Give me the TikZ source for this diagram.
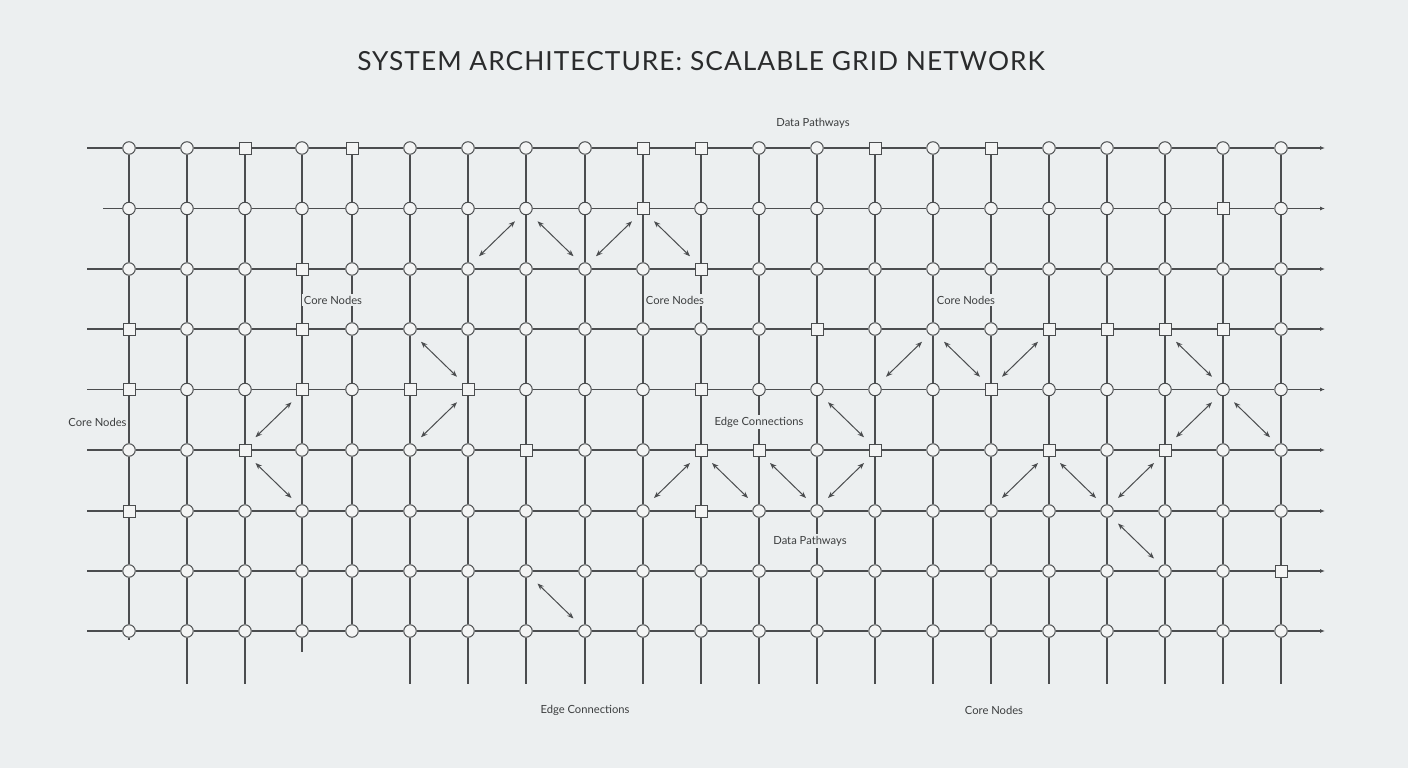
\documentclass[tikz,border=0pt]{standalone}
\usepackage{fontspec}
\setmainfont{Lato}
\newfontfamily\titlefont[LetterSpace=4]{Lato}
\usetikzlibrary{arrows.meta,calc}
\definecolor{bgc}{HTML}{ECEFF0}
\definecolor{ink}{HTML}{4B4D4F}
\definecolor{nodefill}{HTML}{F3F4F4}
\definecolor{titleink}{HTML}{2A2B2C}
\begin{document}
\begin{tikzpicture}[x=1pt,y=-1pt,
  cnode/.style={circle,draw=ink,fill=nodefill,line width=1pt,minimum size=12.5pt,inner sep=0pt},
  snode/.style={rectangle,draw=ink,fill=nodefill,line width=1pt,minimum size=12pt,inner sep=0pt},
  gridline/.style={draw=ink,line width=1.1pt},
  rowend/.style={gridline,-{Latex[length=5pt,width=4pt]}},
  flow/.style={draw=ink,line width=1pt,{Stealth[length=6.5pt,width=5pt]}-{Stealth[length=6.5pt,width=5pt]}},
  lbl/.style={font=\fontsize{11.2}{13}\selectfont,text=ink!80!black,fill=bgc,inner sep=1.5pt},
  titlestyle/.style={font=\titlefont\fontsize{26.3}{30}\selectfont,text=titleink},
]
\fill[bgc] (0,0) rectangle (1408,768);
\useasboundingbox (0,0) rectangle (1408,768);

% square positions
\foreach \p in {3-1,5-1,10-1,11-1,14-1,16-1,10-2,20-2,4-3,11-3,
  1-4,4-4,13-4,17-4,18-4,19-4,20-4,1-5,4-5,6-5,7-5,11-5,16-5,
  3-6,8-6,11-6,12-6,14-6,17-6,19-6,1-7,11-7,21-8}
  {\expandafter\gdef\csname sq-\p\endcsname{}}

% nodes
\foreach \x [count=\c] in {129,187,245,302,352,410,468,526,585,643,701,759,817,875,933,991,1049,1107,1165,1223,1281}{
  \foreach \y [count=\r] in {148,208.5,269,329,389.5,450,511,571,631}{
    \ifcsname sq-\c-\r\endcsname
      \tikzset{cur/.style={snode}}
    \else
      \tikzset{cur/.style={cnode}}
    \fi
    \node[cur] (n-\c-\r) at (\x,\y) {};
  }
}

% row start / end coordinates
\foreach \y [count=\r] in {148,208.5,269,329,389.5,450,511,571,631}{
  \ifnum\r=2
    \coordinate (hs-\r) at (103,\y);
  \else
    \coordinate (hs-\r) at (87,\y);
  \fi
  \coordinate (he-\r) at (1325,\y);
}

% horizontal lines
\foreach \r in {1,...,9}{
  \draw[gridline] (hs-\r) -- (n-1-\r);
  \foreach \c in {1,...,20}{
    \pgfmathtruncatemacro\cn{\c+1}
    \draw[gridline] (n-\c-\r) -- (n-\cn-\r);
  }
  \draw[rowend] (n-21-\r) -- (he-\r);
}

% vertical lines
\foreach \c in {1,...,21}{
  \foreach \r in {1,...,8}{
    \pgfmathtruncatemacro\rn{\r+1}
    \draw[gridline] (n-\c-\r) -- (n-\c-\rn);
  }
}
% bottom extensions
\foreach \c in {2,3,6,7,8,9,10,11,12,13,14,15,16,17,18,19,20,21}{
  \coordinate (vb-\c) at ($(n-\c-9)+(0,53)$);
  \draw[gridline] (n-\c-9) -- (vb-\c);
}
\coordinate (vb-1) at ($(n-1-9)+(0,9)$);
\draw[gridline] (n-1-9) -- (vb-1);
\coordinate (vb-4) at ($(n-4-9)+(0,21)$);
\draw[gridline] (n-4-9) -- (vb-4);

% diagonal double arrows: col, row, direction (1 = /, -1 = \)
\foreach \c/\r/\d [count=\k] in {7/2/1,8/2/-1,9/2/1,10/2/-1,3/5/1,3/6/-1,6/4/-1,6/5/1,
  10/6/1,11/6/-1,12/6/-1,13/6/1,14/4/1,15/4/-1,16/4/1,13/5/-1,16/6/1,
  19/4/-1,19/5/1,20/5/-1,17/6/-1,18/6/1,18/7/-1,8/8/-1}{
  \pgfmathtruncatemacro\cn{\c+1}
  \pgfmathtruncatemacro\rn{\r+1}
  \coordinate (m-\k) at ($(n-\c-\r)!0.5!(n-\cn-\rn)$);
  \coordinate (a-\k-s) at ($(m-\k)+(-18,17.5*\d)$);
  \coordinate (a-\k-e) at ($(m-\k)+(18,-17.5*\d)$);
  \draw[flow] (a-\k-s) -- (a-\k-e);
}

% labels
\node[titlestyle] (title) at (701,61) {SYSTEM ARCHITECTURE: SCALABLE GRID NETWORK};
\node[lbl] (l1) at (813,123) {Data Pathways};
\node[lbl] (l2) at (333,300) {Core Nodes};
\node[lbl] (l3) at (675,300) {Core Nodes};
\node[lbl] (l4) at (966,300) {Core Nodes};
\node[lbl,fill=none] (l5) at (97.5,422) {Core Nodes};
\node[lbl] (l6) at (759,422) {Edge Connections};
\node[lbl] (l7) at (810,541) {Data Pathways};
\node[lbl] (l8) at (585,710) {Edge Connections};
\node[lbl] (l9) at (994,710) {Core Nodes};
\end{tikzpicture}
\end{document}
